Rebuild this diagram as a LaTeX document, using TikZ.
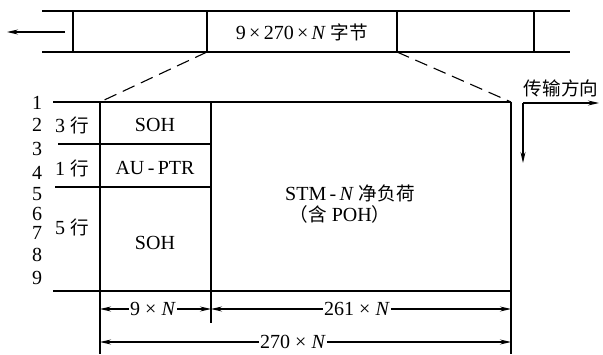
\documentclass[tikz,border=0pt]{standalone}
\usepackage{fontspec}
\setmainfont{Liberation Serif}
\newfontfamily\cjk[Scale=0.93]{Noto Sans CJK SC}
\usetikzlibrary{arrows.meta}
\tikzset{
  frameline/.style={line width=2pt},
  dimline/.style={line width=1.1pt, -{Stealth[length=11pt,width=5pt]}},
  lbl/.style={font=\fontsize{20}{23}\selectfont, inner sep=1pt},
}
\begin{document}
\begin{tikzpicture}[x=1pt,y=-1pt]
\useasboundingbox (0,0) rectangle (603,354);

% 字节流
\draw[frameline] (42,11) -- (570,11);
\draw[frameline] (42,52) -- (570,52);
\foreach \x in {73,207,397,534} \draw[frameline] (\x,11) -- (\x,52);
\coordinate (b1) at (207,52);
\coordinate (b2) at (397,52);
\coordinate (out) at (7,32);
\coordinate (in) at (65,32);
\draw[dimline] (in) -- (out);
\node[lbl] (bytes) at (302,32) {9\,×\,270\,×\,\textit{N} {\cjk 字节}};

% 帧
\coordinate (tl) at (100,102);
\coordinate (tm) at (211,102);
\coordinate (tr) at (511,102);
\draw[frameline] (53,102) -- (tr);
\draw[frameline] (53,291) -- (511,291);
\draw[frameline] (58,144) -- (211,144);
\draw[frameline] (55,187) -- (211,187);
\draw[frameline] (tl) -- (100,354);
\draw[frameline] (tm) -- (211,323);
\draw[frameline] (tr) -- (511,354);
\draw[line width=1.1pt, dash pattern=on 13pt off 7pt] (b1) -- (tl);
\draw[line width=1.1pt, dash pattern=on 13pt off 7pt] (b2) -- (tr);

% 行号
\foreach \n/\y in {1/103,2/125,3/149,4/173,5/194,6/214,7/233,8/255,9/278}
  \node[lbl] (r\n) at (37,\y) {\n};
\node[lbl] (h3) at (72,125) {3 {\cjk 行}};
\node[lbl] (h1) at (72,168) {1 {\cjk 行}};
\node[lbl] (h5) at (72,227) {5 {\cjk 行}};

\node[lbl] (soh1) at (155,125) {SOH};
\node[lbl] (ptr) at (155,168) {AU\,-\,PTR};
\node[lbl] (soh2) at (155,243) {SOH};
\node[lbl] (stm) at (350,193) {STM\,-\,\textit{N} {\cjk 净负荷}};
\node[lbl] (poh) at (340,214) {{\cjk （含} POH{\cjk ）}};

% 传输方向
\coordinate (dir) at (523,103);
\coordinate (dx) at (599,103);
\coordinate (dy) at (523,163);
\draw[dimline] (dir) -- (dx);
\draw[dimline] (dir) -- (dy);
\node[lbl] (dirlbl) at (561,88) {\cjk 传输方向};

% 尺寸
\node[lbl, fill=white] (w9) at (153,309) {9 × \textit{N}};
\draw[dimline] (w9.west) -- (100,309);
\draw[dimline] (w9.east) -- (211,309);
\node[lbl, fill=white] (w261) at (357,309) {261 × \textit{N}};
\draw[dimline] (w261.west) -- (211,309);
\draw[dimline] (w261.east) -- (511,309);
\node[lbl, fill=white] (w270) at (293,342) {270 × \textit{N}};
\draw[dimline] (w270.west) -- (100,342);
\draw[dimline] (w270.east) -- (511,342);
\end{tikzpicture}
\end{document}
